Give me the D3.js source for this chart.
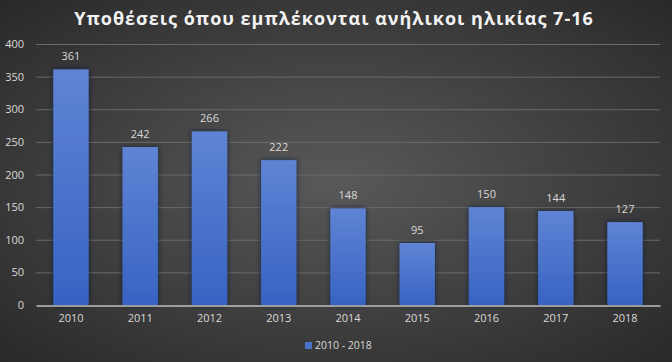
<!DOCTYPE html>
<html>
<head>
<meta charset="utf-8">
<script src="https://cdn.jsdelivr.net/npm/d3@7"></script>
<style>
  body { margin: 0; background: #333; }
  svg { display: block; }
</style>
</head>
<body>
<div id="chart"></div>
<script>
// Υποθέσεις ανηλίκων 7-16, ανά έτος
var years = ["2010", "2011", "2012", "2013", "2014", "2015", "2016", "2017", "2018"];
var cases = [361, 242, 266, 222, 148, 95, 150, 144, 127];
var yTicks = [0, 50, 100, 150, 200, 250, 300, 350, 400];
var seriesName = "2010 - 2018";
var title = "Υποθέσεις όπου εμπλέκονται ανήλικοι ηλικίας 7-16";

var width = 672;
var height = 362;
var margin = { top: 44, right: 12, bottom: 57, left: 36 };

var svg = d3.select('#chart')
    .append('svg')
    .attr('width', width)
    .attr('height', height);

var defs = svg.append('defs');

var bg = defs.append('radialGradient')
    .attr('id', 'bg')
    .attr('cx', '50%').attr('cy', '50%').attr('r', '75%');
bg.append('stop').attr('offset', '0%').attr('stop-color', '#595959');
bg.append('stop').attr('offset', '100%').attr('stop-color', '#262626');

var barGrad = defs.append('linearGradient')
    .attr('id', 'barGrad')
    .attr('x1', 0).attr('y1', 0).attr('x2', 0).attr('y2', 1);
barGrad.append('stop').attr('offset', '0%').attr('stop-color', '#5f84d4');
barGrad.append('stop').attr('offset', '100%').attr('stop-color', '#3863c3');

var shadow = defs.append('filter')
    .attr('id', 'glow')
    .attr('x', '-30%').attr('y', '-10%').attr('width', '160%').attr('height', '120%');
shadow.append('feGaussianBlur').attr('in', 'SourceAlpha').attr('stdDeviation', 2.5).attr('result', 'b');
shadow.append('feFlood').attr('flood-color', '#0c1a3a').attr('flood-opacity', 0.8);
shadow.append('feComposite').attr('in2', 'b').attr('operator', 'in');
var merge = shadow.append('feMerge');
merge.append('feMergeNode');
merge.append('feMergeNode').attr('in', 'SourceGraphic');

svg.append('rect')
    .attr('width', width)
    .attr('height', height)
    .attr('fill', 'url(#bg)');

svg.append('text')
    .attr('x', width / 2 - 2)
    .attr('y', 25)
    .attr('text-anchor', 'middle')
    .style('font-family', '"Open Sans", sans-serif')
    .style('font-weight', 'bold')
    .style('font-size', '18px')
    .style('letter-spacing', '1px')
    .attr('fill', '#f2f2f2')
    .text(title);

var xscale = d3.scaleBand()
    .domain(years)
    .range([margin.left, width - margin.right])
    .paddingInner(0.49)
    .paddingOuter(0.25);

var yscale = d3.scaleLinear()
    .domain([0, 400])
    .range([height - margin.bottom, margin.top]);

// gridlines
svg.append('g')
    .selectAll('line')
    .data(yTicks.slice(1))
    .enter()
    .append('line')
    .attr('x1', margin.left)
    .attr('x2', width - margin.right)
    .attr('y1', d => yscale(d) + 0.5)
    .attr('y2', d => yscale(d) + 0.5)
    .attr('stroke', '#6a6a6a')
    .attr('stroke-width', 1);

// y axis labels
var yaxis = d3.axisLeft(yscale).tickValues(yTicks).tickSize(0).tickPadding(12);
var gy = svg.append('g')
    .attr('transform', 'translate(' + margin.left + ',0)')
    .call(yaxis);
gy.select('.domain').remove();
gy.selectAll('text')
    .style('font-family', '"Open Sans", sans-serif')
    .style('font-size', '11px')
    .attr('fill', '#d9d9d9');

// bars
svg.append('g')
    .selectAll('rect')
    .data(cases)
    .enter()
    .append('rect')
    .attr('x', (d, i) => xscale(years[i]))
    .attr('y', d => yscale(d))
    .attr('width', xscale.bandwidth())
    .attr('height', d => yscale(0) - yscale(d))
    .attr('fill', 'url(#barGrad)')
    .attr('filter', 'url(#glow)');

// value labels
svg.append('g')
    .selectAll('text')
    .data(cases)
    .enter()
    .append('text')
    .attr('x', (d, i) => xscale(years[i]) + xscale.bandwidth() / 2)
    .attr('y', d => yscale(d) - 9)
    .attr('text-anchor', 'middle')
    .style('font-family', '"Open Sans", sans-serif')
    .style('font-size', '11px')
    .attr('fill', '#d9d9d9')
    .text(d => d);

// x axis
var xaxis = d3.axisBottom(xscale).tickSize(0).tickPadding(9);
var gx = svg.append('g')
    .attr('transform', 'translate(0,' + (yscale(0) + 0.5) + ')')
    .call(xaxis);
gx.select('.domain')
    .attr('stroke', '#bfbfbf')
    .attr('stroke-width', 1.5);
gx.selectAll('text')
    .style('font-family', '"Open Sans", sans-serif')
    .style('font-size', '11px')
    .attr('fill', '#d9d9d9');

// legend
var legend = svg.append('g')
    .attr('transform', 'translate(305,342)');
legend.append('rect')
    .attr('width', 7)
    .attr('height', 7)
    .attr('fill', '#4a72c9');
legend.append('text')
    .attr('x', 10)
    .attr('y', 7)
    .style('font-family', '"Open Sans", sans-serif')
    .style('font-size', '10.5px')
    .attr('fill', '#d9d9d9')
    .text(seriesName);
</script>
</body>
</html>
